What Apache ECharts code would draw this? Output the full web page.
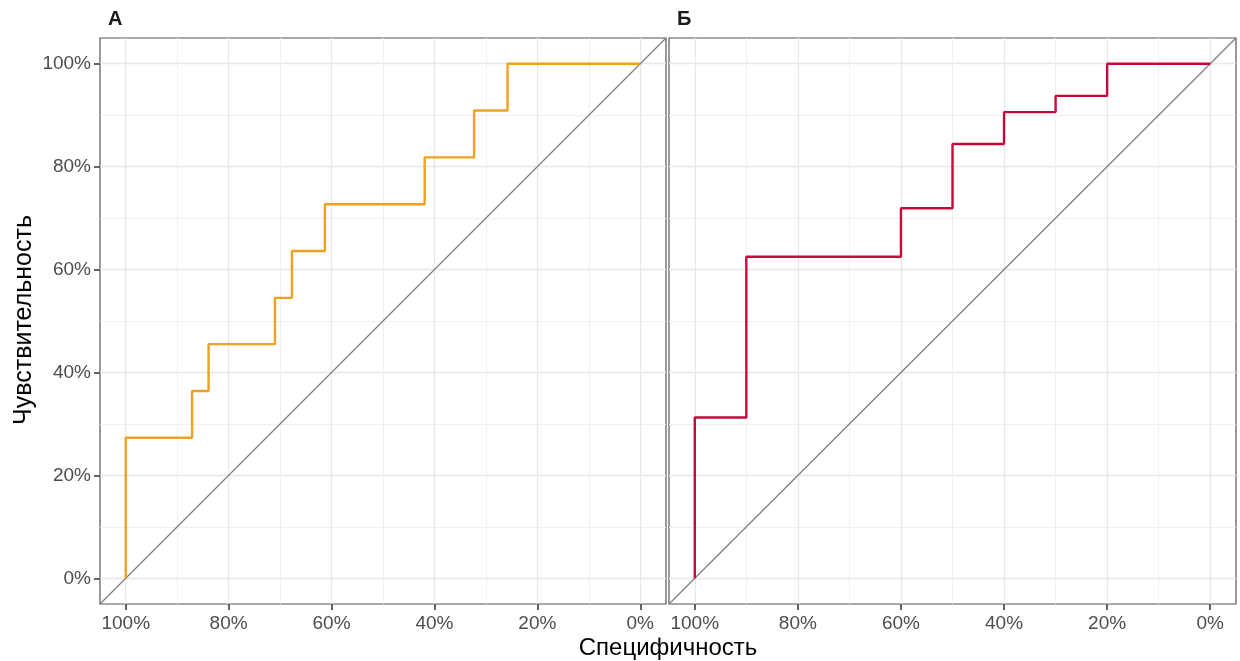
<!DOCTYPE html>
<html><head><meta charset="utf-8">
<script src="https://cdn.jsdelivr.net/npm/echarts@6/dist/echarts.min.js"></script>
<style>html,body{margin:0;padding:0;background:#fff}#c{width:1240px;height:661px}</style>
</head><body><div id="c"></div>
<script>
// Panel A ROC corners (specificity %, sensitivity %)
const specA = [100,100,87.1,87.1,83.9,83.9,71.0,71.0,67.7,67.7,61.3,61.3,41.9,41.9,32.3,32.3,25.8,25.8,0];
const sensA = [0,27.3,27.3,36.4,36.4,45.5,45.5,54.5,54.5,63.6,63.6,72.7,72.7,81.8,81.8,90.9,90.9,100,100];
// Panel B ROC corners
const specB = [100,100,90,90,60,60,50,50,40,40,30,30,20,20,0];
const sensB = [0,31.25,31.25,62.5,62.5,71.9,71.9,84.4,84.4,90.6,90.6,93.75,93.75,100,100];
// chance diagonal across the expanded panel
const diagSpec = [105,-5];
const diagSens = [-5,105];
const majorTicks = [0,20,40,60,80,100];
const minorTicks = [10,30,50,70,90];
const panelTitles = ['А','Б'];
const xTitle = 'Специфичность';
const yTitle = 'Чувствительность';

const FONT = '"Liberation Sans", Arial, sans-serif';
const zip = (a,b)=>a.map((v,i)=>[v,b[i]]);
const pct = v => v + '%';

const grids = [
  {left:100, right:574, top:38, bottom:57, show:true, borderColor:'#555', borderWidth:1.2, backgroundColor:'#fff'},
  {left:669, right:4, top:38, bottom:57, show:true, borderColor:'#555', borderWidth:1.2, backgroundColor:'#fff'}
];

const xAxes = [], yAxes = [];
[0,1].forEach(g=>{
  // minor grid axes
  xAxes.push({type:'value', gridIndex:g, position:'bottom', min:-5, max:105, inverse:true,
    axisLine:{show:false, onZero:false}, axisTick:{show:false, customValues:minorTicks}, axisLabel:{show:false},
    splitLine:{show:true, lineStyle:{color:'#F0F0F0', width:1}}});
  yAxes.push({type:'value', gridIndex:g, position:'left', min:-5, max:105,
    axisLine:{show:false, onZero:false}, axisTick:{show:false, customValues:minorTicks}, axisLabel:{show:false},
    splitLine:{show:true, lineStyle:{color:'#F0F0F0', width:1}}});
  // major axes
  xAxes.push({type:'value', gridIndex:g, position:'bottom', min:-5, max:105, inverse:true,
    axisLine:{show:false, onZero:false},
    axisTick:{show:true, customValues:majorTicks, length:6, lineStyle:{color:'#333', width:1.5}},
    axisLabel:{show:true, customValues:majorTicks, formatter:pct, color:'#4D4D4D', fontSize:19, fontFamily:FONT, margin:10},
    splitLine:{show:true, lineStyle:{color:'#E8E8E8', width:1.3}}});
  yAxes.push({type:'value', gridIndex:g, position:'left', min:-5, max:105,
    axisLine:{show:false, onZero:false},
    axisTick:{show:g===0, customValues:majorTicks, length:6, lineStyle:{color:'#333', width:1.5}},
    axisLabel:{show:g===0, customValues:majorTicks, formatter:pct, color:'#4D4D4D', fontSize:19, fontFamily:FONT, margin:9},
    splitLine:{show:true, lineStyle:{color:'#E8E8E8', width:1.3}}});
});

const series = [];
[[specA,sensA,'#F0A120'],[specB,sensB,'#C8093C']].forEach((d,g)=>{
  series.push({type:'line', xAxisIndex:g*2+1, yAxisIndex:g*2+1, data:zip(diagSpec,diagSens),
    showSymbol:false, silent:true, lineStyle:{color:'#808080', width:1.3}, z:2});
  series.push({type:'line', xAxisIndex:g*2+1, yAxisIndex:g*2+1, data:zip(d[0],d[1]),
    showSymbol:false, silent:true, lineStyle:{color:d[2], width:2.4}, z:3});
});

const chart = echarts.init(document.getElementById('c'), null, {renderer:'canvas'});
chart.setOption({
  animation:false,
  backgroundColor:'#fff',
  grid:grids, xAxis:xAxes, yAxis:yAxes, series:series,
  graphic:[
    {type:'text', left:108, top:9, style:{text:panelTitles[0], font:'bold 20px '+FONT, fill:'#1a1a1a'}},
    {type:'text', left:677, top:9, style:{text:panelTitles[1], font:'bold 20px '+FONT, fill:'#1a1a1a'}},
    {type:'text', x:668, y:648, style:{text:xTitle, font:'24px '+FONT, fill:'#000', align:'center', verticalAlign:'middle'}},
    {type:'text', x:24, y:320, rotation:Math.PI/2, style:{text:yTitle, font:'25px '+FONT, fill:'#000', align:'center', verticalAlign:'middle'}}
  ]
});
</script></body></html>
